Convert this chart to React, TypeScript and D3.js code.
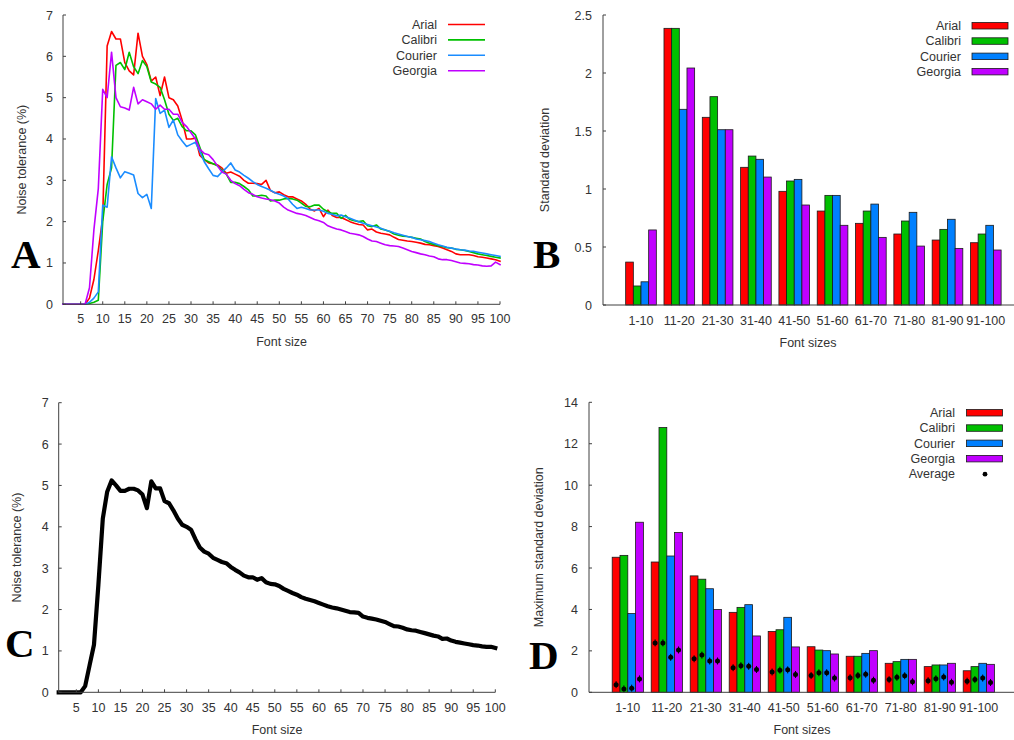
import React from "react";
import * as d3 from "d3";

// ---------- DATA ----------
const fontSizes = d3.range(1, 101);
const arial = [0,0,0,0,0,0,0.15,0.6,1.3,2.1, 6.25,6.6,6.42,6.42,5.85,5.65,5.55,6.56,6.0,5.8, 5.4,5.5,5.05,5.5,5.0,4.95,4.8,4.45,4.0,4.0, 4.02,3.6,3.5,3.42,3.4,3.37,3.3,3.17,3.2,3.15, 3.1,3.0,2.93,2.93,2.92,2.9,3.0,2.75,2.7,2.72, 2.65,2.6,2.6,2.55,2.5,2.42,2.3,2.26,2.32,2.12, 2.28,2.15,2.1,2.1,2.05,2.0,1.96,1.93,1.92,1.8, 1.82,1.75,1.72,1.7,1.68,1.62,1.57,1.55,1.53,1.52, 1.5,1.48,1.45,1.44,1.42,1.4,1.36,1.32,1.28,1.22, 1.2,1.2,1.2,1.18,1.15,1.14,1.12,1.1,1.08,1.04];
const calibri = [0,0,0,0,0,0,0.02,0.05,0.1,2.0, 2.9,3.3,5.78,5.85,5.68,6.1,5.75,5.58,5.9,5.75, 5.38,5.33,5.25,4.95,4.6,4.45,4.5,4.3,4.2,4.2, 4.1,3.8,3.5,3.45,3.4,3.35,3.25,3.15,2.95,2.95, 2.92,2.85,2.77,2.62,2.62,2.64,2.62,2.5,2.52,2.52, 2.55,2.56,2.55,2.52,2.45,2.37,2.36,2.4,2.4,2.3, 2.24,2.2,2.2,2.08,2.15,2.05,2.02,2.0,2.02,1.9, 1.88,1.92,1.82,1.8,1.76,1.7,1.67,1.65,1.64,1.62, 1.6,1.58,1.52,1.48,1.45,1.42,1.4,1.37,1.36,1.33, 1.32,1.3,1.28,1.25,1.22,1.2,1.18,1.16,1.14,1.12];
const courier = [0,0,0,0,0,0,0.05,0.15,0.3,2.4, 2.35,3.57,3.3,3.06,3.21,3.17,3.13,2.68,2.58,2.66, 2.32,4.98,4.62,4.7,4.28,4.46,4.1,3.95,3.82,3.87, 3.92,3.7,3.45,3.28,3.12,3.09,3.2,3.3,3.42,3.25, 3.2,3.12,3.05,2.97,2.9,2.85,2.81,2.76,2.7,2.66, 2.62,2.55,2.42,2.32,2.35,2.32,2.28,2.28,2.28,2.25, 2.2,2.18,2.14,2.16,2.12,2.08,2.04,2.0,1.96,1.93, 1.9,1.87,1.84,1.8,1.77,1.73,1.7,1.67,1.64,1.62, 1.58,1.56,1.54,1.52,1.48,1.44,1.41,1.38,1.36,1.34, 1.32,1.31,1.29,1.28,1.26,1.24,1.22,1.2,1.18,1.16];
const georgia = [0,0,0,0,0,0,0.4,1.8,2.8,5.2, 5.0,6.1,5.0,4.78,4.75,4.7,5.25,4.85,4.95,4.9, 4.85,4.72,4.82,4.72,4.72,4.6,4.6,4.4,4.3,4.15, 4.0,3.75,3.65,3.62,3.5,3.35,3.2,3.15,3.0,2.92, 2.87,2.78,2.7,2.66,2.6,2.57,2.55,2.53,2.5,2.45, 2.35,2.28,2.24,2.2,2.18,2.15,2.1,2.05,2.02,1.98, 1.9,1.86,1.82,1.8,1.76,1.72,1.7,1.68,1.64,1.58, 1.53,1.52,1.48,1.44,1.42,1.41,1.4,1.36,1.32,1.28, 1.25,1.22,1.2,1.17,1.15,1.1,1.08,1.08,1.06,1.03, 1.0,0.99,0.98,0.96,0.95,0.93,0.92,0.93,1.02,0.96];
const average = [0,0,0,0,0,0,0.15,0.65,1.15,2.6, 4.2,4.85,5.12,5.0,4.87,4.87,4.92,4.92,4.88,4.78, 4.45,5.1,4.93,4.93,4.62,4.57,4.4,4.2,4.05,4.0, 3.93,3.7,3.5,3.4,3.35,3.25,3.2,3.15,3.12,3.03, 2.96,2.9,2.82,2.78,2.78,2.72,2.76,2.66,2.62,2.61, 2.57,2.5,2.45,2.4,2.36,2.3,2.26,2.23,2.2,2.16, 2.12,2.08,2.05,2.03,2.0,1.97,1.94,1.93,1.92,1.83, 1.8,1.78,1.76,1.73,1.7,1.65,1.6,1.59,1.56,1.52, 1.5,1.49,1.46,1.43,1.4,1.37,1.35,1.29,1.3,1.25, 1.22,1.2,1.18,1.16,1.14,1.13,1.11,1.1,1.1,1.07];

const fontNames = ["Arial", "Calibri", "Courier", "Georgia"];
const fontColors = ["#ff0000", "#00c000", "#1a8cff", "#c000ff"];
const barColors = ["#ff0000", "#00c000", "#0080ff", "#c000ff"];
const groups = ["1-10","11-20","21-30","31-40","41-50","51-60","61-70","71-80","81-90","91-100"];

const sdArial   = [0.37,2.385,1.618,1.187,0.98,0.81,0.704,0.612,0.56,0.537];
const sdCalibri = [0.164,2.385,1.796,1.284,1.069,0.945,0.81,0.724,0.652,0.612];
const sdCourier = [0.20,1.687,1.511,1.256,1.083,0.945,0.87,0.799,0.739,0.687];
const sdGeorgia = [0.647,2.043,1.511,1.103,0.862,0.687,0.583,0.508,0.488,0.474];

const maxArial   = [6.52,6.29,5.62,3.86,2.94,2.2,1.74,1.4,1.24,1.04];
const maxCalibri = [6.61,12.78,5.46,4.10,3.02,2.04,1.74,1.48,1.32,1.24];
const maxCourier = [3.80,6.58,5.0,4.23,3.62,2.01,1.88,1.59,1.32,1.40];
const maxGeorgia = [8.21,7.71,4.0,2.72,2.19,1.85,2.01,1.59,1.40,1.35];

const lineTicksX = d3.range(5, 101, 5);
const noiseTicksY = d3.range(0, 8, 1);
const sdTicksY = [0, 0.5, 1, 1.5, 2, 2.5];
const maxTicksY = [0, 2, 4, 6, 8, 10, 12, 14];

const sdSeries = [sdArial, sdCalibri, sdCourier, sdGeorgia];
const maxSeries = [maxArial, maxCalibri, maxCourier, maxGeorgia];
const lineSeries = [arial, calibri, courier, georgia];

// ---------- STYLE ----------
const SANS = "'Liberation Sans', Arial, sans-serif";
const SERIF = "'Liberation Serif', 'Times New Roman', serif";
const AX = "#404040";
const TXT = "#333";
const FS = 12.5;

function fmt(v: number) {
  return String(v);
}

function LinePanel({ x0, x1, y0, y1, series, colors, widths, legend, letter, lx, ly, ylabX, xlabY, tickLabY }: any) {
  const x = d3.scaleLinear().domain([1, 100]).range([x0, x1]);
  const y = d3.scaleLinear().domain([0, 7]).range([y0, y1]);
  const line = d3.line<number>().x((_, i) => x(fontSizes[i])).y((d) => y(d));
  return (
    <g>
      {series.map((s: number[], i: number) => (
        <path key={i} d={line(s) || ""} fill="none" stroke={colors[i]} strokeWidth={widths}
          strokeLinejoin="round" strokeLinecap="square" />
      ))}
      <line x1={x0} x2={x0} y1={y0} y2={y1} stroke={AX} />
      <line x1={x0} x2={x1} y1={y0} y2={y0} stroke={AX} />
      {noiseTicksY.map((t) => (
        <g key={t}>
          <line x1={x0} x2={x0 + 3} y1={y(t)} y2={y(t)} stroke={AX} />
          <text x={x0 - 10} y={y(t) + 4.5} textAnchor="end" fontSize={FS} fill={TXT} fontFamily={SANS}>{t}</text>
        </g>
      ))}
      {lineTicksX.map((t) => (
        <g key={t}>
          <line x1={x(t)} x2={x(t)} y1={y0} y2={y0 - 3} stroke={AX} />
          <text x={x(t)} y={tickLabY} textAnchor="middle" fontSize={FS} fill={TXT} fontFamily={SANS}>{t}</text>
        </g>
      ))}
      <text x={(x0 + x1) / 2} y={xlabY} textAnchor="middle" fontSize={FS} fill={TXT} fontFamily={SANS}>Font size</text>
      <text transform={`translate(${ylabX},${(y0 + y1) / 2}) rotate(-90)`} textAnchor="middle" fontSize={FS} fill={TXT} fontFamily={SANS}>Noise tolerance (%)</text>
      <text x={lx} y={ly} fontSize={41} fontWeight="bold" fontFamily={SERIF} fill="#000">{letter}</text>
      {legend && fontNames.map((n, i) => (
        <g key={n}>
          <text x={437} y={24.5 + i * 15.4 + 4.5} textAnchor="end" fontSize={FS} fill={TXT} fontFamily={SANS}>{n}</text>
          <line x1={448} x2={485} y1={24.5 + i * 15.4} y2={24.5 + i * 15.4} stroke={colors[i]} strokeWidth={1.6} />
        </g>
      ))}
    </g>
  );
}

function BarPanel({ ax0, axEnd, c0, c9, y0, y1, ymax, ticks, series, dots, ylab, letter, lx, ly, ylabX, tickLabY, xlabY, xlabX, legX, legTextX, legY }: any) {
  const xc = d3.scaleLinear().domain([0, 9]).range([c0, c9]);
  const step = (c9 - c0) / 9;
  const bw = step * 0.2;
  const y = d3.scaleLinear().domain([0, ymax]).range([y0, y1]);
  return (
    <g>
      {series.map((s: number[], k: number) =>
        s.map((v, i) => (
          <rect key={k + "-" + i} x={xc(i) - 2 * bw + k * bw} y={y(v)} width={bw} height={y0 - y(v)}
            fill={barColors[k]} stroke="#1a1a1a" strokeWidth={0.8} />
        ))
      )}
      {dots && dots.map((s: number[], k: number) =>
        s.map((v, i) => {
          const cx = xc(i) - 2 * bw + k * bw + bw / 2;
          return (
            <g key={"d" + k + "-" + i}>
              <line x1={cx} x2={cx} y1={y(v) - 3.5} y2={y(v) + 3.5} stroke="#000" strokeWidth={1} />
              <circle cx={cx} cy={y(v)} r={2.5} fill="#000" />
            </g>
          );
        })
      )}
      <line x1={ax0} x2={ax0} y1={y0} y2={y1} stroke={AX} />
      <line x1={ax0} x2={axEnd} y1={y0} y2={y0} stroke={AX} />
      {ticks.map((t: number) => (
        <g key={t}>
          <line x1={ax0} x2={ax0 + 3} y1={y(t)} y2={y(t)} stroke={AX} />
          <text x={ax0 - 11} y={y(t) + 4.5} textAnchor="end" fontSize={FS} fill={TXT} fontFamily={SANS}>{fmt(t)}</text>
        </g>
      ))}
      {groups.map((g, i) => (
        <text key={g} x={xc(i)} y={tickLabY} textAnchor="middle" fontSize={FS} fill={TXT} fontFamily={SANS}>{g}</text>
      ))}
      <text x={xlabX} y={xlabY} textAnchor="middle" fontSize={FS} fill={TXT} fontFamily={SANS}>Font sizes</text>
      <text transform={`translate(${ylabX},${(y0 + y1) / 2}) rotate(-90)`} textAnchor="middle" fontSize={FS} fill={TXT} fontFamily={SANS}>{ylab}</text>
      <text x={lx} y={ly} fontSize={41} fontWeight="bold" fontFamily={SERIF} fill="#000">{letter}</text>
      {fontNames.map((n, i) => (
        <g key={n}>
          <text x={legTextX} y={legY + i * 15.3 + 4.5} textAnchor="end" fontSize={FS} fill={TXT} fontFamily={SANS}>{n}</text>
          <rect x={legX} y={legY + i * 15.3 - 3} width={36} height={6.5} fill={barColors[i]} stroke="#1a1a1a" strokeWidth={0.8} />
        </g>
      ))}
      {dots && (
        <g>
          <text x={legTextX} y={legY + 4 * 15.3 + 4.5} textAnchor="end" fontSize={FS} fill={TXT} fontFamily={SANS}>Average</text>
          <circle cx={legX + 18.5} cy={legY + 4 * 15.3 + 0.5} r={2.4} fill="#000" />
        </g>
      )}
    </g>
  );
}

export default function App() {
  return (
    <svg width={1014} height={740} style={{ position: "absolute", left: 0, top: 0, background: "#fff" }}>
      <rect width={1014} height={740} fill="#fff" />
      <LinePanel x0={63} x1={500} y0={304.3} y1={15} series={lineSeries} colors={fontColors} widths={1.6}
        legend letter="A" lx={11} ly={268} ylabX={26} xlabY={346} tickLabY={323} />
      <LinePanel x0={58.7} x1={495.3} y0={692.3} y1={402.7} series={[average]} colors={["#000"]} widths={4.2}
        legend={false} letter="C" lx={5} ly={657} ylabX={21} xlabY={734} tickLabY={712} />
      <BarPanel ax0={603} axEnd={1014} c0={641} c9={985.8} y0={305} y1={15} ymax={2.5} ticks={sdTicksY}
        series={sdSeries} dots={null} ylab="Standard deviation" letter="B" lx={533} ly={268}
        ylabX={549} tickLabY={325} xlabY={347} xlabX={808} legX={972} legTextX={961} legY={25.5} />
      <BarPanel ax0={589} axEnd={1014} c0={627.8} c9={978.8} y0={692.3} y1={402.3} ymax={14} ticks={maxTicksY}
        series={maxSeries} dots={sdSeries} ylab="Maximum standard deviation" letter="D" lx={529} ly={669}
        ylabX={543} tickLabY={712} xlabY={734} xlabX={802} legX={966.5} legTextX={955} legY={412.5} />
    </svg>
  );
}
